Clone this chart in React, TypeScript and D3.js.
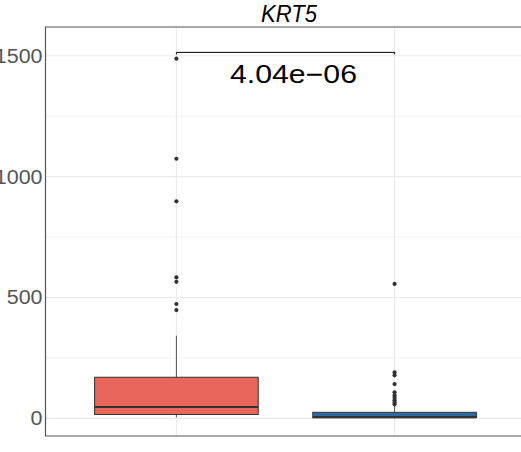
import React from "react";
import * as d3 from "d3";

// Expression values of KRT5 per group, summarised as box statistics plus outliers
const groups = ["Tumor", "Normal"];
const lowerWhisker = [4, 0];
const q1 = [16, 3];
const median = [47, 5];
const q3 = [170, 25];
const upperWhisker = [342, 55];
const outliersTumor = [1488, 1074, 898, 583, 565, 473, 448];
const outliersNormal = [556, 190, 178, 142, 108, 95, 85, 75, 66, 58];
const fills = ["#E8665A", "#2D6AA3"];
const yMajorTicks = [0, 500, 1000, 1500];
const yMinorTicks = [250, 750, 1250];
const title = "KRT5";
const pLabel = "4.04e\u221206";
const bracketY = 1514;

const W = 521;
const H = 452;
const panel = { left: 45.5, right: 525.5, top: 27, bottom: 436 };

export default function App() {
  const x = d3
    .scalePoint<string>()
    .domain(groups)
    .range([panel.left, panel.right])
    .padding(0.6);
  const step = x.step();
  const boxW = step * 0.75;
  const y = d3.scaleLinear().domain([-73, 1619]).range([panel.bottom, panel.top]);
  const outliers = [outliersTumor, outliersNormal];
  const font = "'Liberation Sans', Arial, Helvetica, sans-serif";

  const x1 = x(groups[0])!;
  const x2 = x(groups[1])!;

  return (
    <svg
      width={W}
      height={H}
      style={{ position: "absolute", left: 0, top: 0, background: "#fff" }}
    >
      <defs>
        <clipPath id="panel-clip">
          <rect x={panel.left} y={panel.top} width={panel.right - panel.left} height={panel.bottom - panel.top} />
        </clipPath>
      </defs>
      <rect x={0} y={0} width={W} height={H} fill="#fff" />
      {/* grid */}
      {yMinorTicks.map((t) => (
        <line key={"mn" + t} x1={panel.left} x2={panel.right} y1={y(t)} y2={y(t)} stroke="#f2f2f2" strokeWidth={1} />
      ))}
      {yMajorTicks.map((t) => (
        <line key={"mj" + t} x1={panel.left} x2={panel.right} y1={y(t)} y2={y(t)} stroke="#ebebeb" strokeWidth={1.2} />
      ))}
      {groups.map((g) => (
        <line key={"vg" + g} x1={x(g)} x2={x(g)} y1={panel.top} y2={panel.bottom} stroke="#ebebeb" strokeWidth={1.2} />
      ))}

      {/* boxes */}
      <g clipPath="url(#panel-clip)">
        {groups.map((g, i) => {
          const cx = x(g)!;
          return (
            <g key={g}>
              <line x1={cx} x2={cx} y1={y(upperWhisker[i])} y2={y(q3[i])} stroke="#555" strokeWidth={1} />
              <line x1={cx} x2={cx} y1={y(q1[i])} y2={y(lowerWhisker[i])} stroke="#555" strokeWidth={1} />
              <rect
                x={cx - boxW / 2}
                y={y(q3[i])}
                width={boxW}
                height={y(q1[i]) - y(q3[i])}
                fill={fills[i]}
                stroke="#333"
                strokeWidth={1}
              />
              <line
                x1={cx - boxW / 2}
                x2={cx + boxW / 2}
                y1={y(median[i])}
                y2={y(median[i])}
                stroke="#333"
                strokeWidth={2.2}
              />
              {outliers[i].map((v, k) => (
                <circle key={k} cx={cx} cy={y(v)} r={2.1} fill="#333" />
              ))}
            </g>
          );
        })}
      </g>

      {/* significance bracket */}
      <path
        d={`M${x1},${y(bracketY) + 2}V${y(bracketY)}H${x2}V${y(bracketY) + 2}`}
        fill="none"
        stroke="#000"
        strokeWidth={1}
      />
      <text
        x={230}
        y={83.3}
        fontFamily={font}
        fontSize={25.5}
        textLength={127}
        lengthAdjust="spacingAndGlyphs"
        fill="#000"
      >
        {pLabel}
      </text>

      {/* panel border (left, top, bottom; the right side lies past the edge) */}
      <path
        d={`M${panel.right},${panel.top}H${panel.left}V${panel.bottom}H${panel.right}`}
        fill="none"
        stroke="#555"
        strokeWidth={1.2}
      />

      {/* y tick labels */}
      {yMajorTicks.map((t) => (
        <text
          key={"yl" + t}
          transform={`translate(42.5,${y(t) + 7}) scale(1.1,1)`}
          textAnchor="end"
          fontFamily={font}
          fontSize={19.5}
          fill="#555"
        >
          {t}
        </text>
      ))}

      {/* title */}
      <text
        x={261}
        y={21.7}
        fontFamily={font}
        fontStyle="italic"
        fontSize={23.5}
        textLength={56}
        lengthAdjust="spacingAndGlyphs"
        fill="#000"
      >
        {title}
      </text>
    </svg>
  );
}
